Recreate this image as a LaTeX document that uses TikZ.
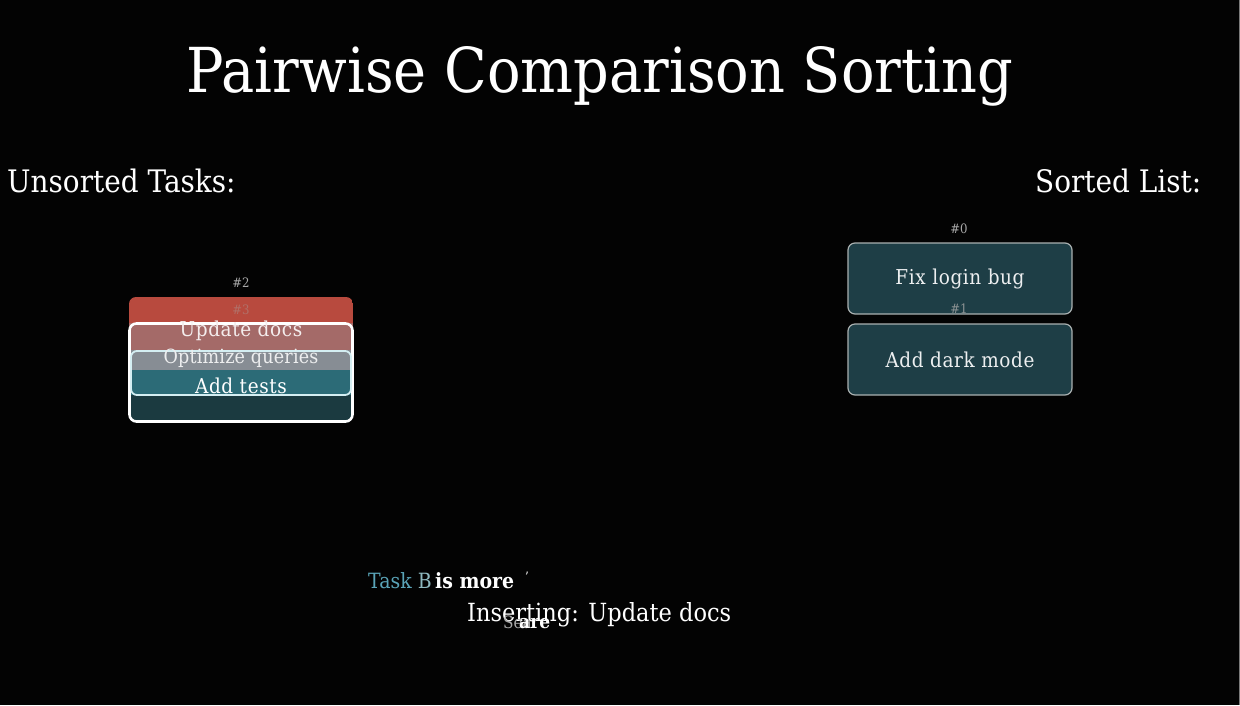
\documentclass[tikz,border=0pt]{standalone}
\usepackage{fontspec}
\setmainfont{DejaVu Serif}[FakeStretch=0.9]
\definecolor{bg}{HTML}{030303}
\definecolor{redbox}{HTML}{B84A3E}
\definecolor{pinkbox}{HTML}{A46A68}
\definecolor{graybox}{HTML}{878D94}
\definecolor{tealbox}{HTML}{2C6B77}
\definecolor{darkteal}{HTML}{1B3A40}
\definecolor{sortfill}{HTML}{1E3E46}
\definecolor{sortedge}{HTML}{A9B0B0}
\definecolor{lbl}{HTML}{A8A8A8}
\definecolor{taskc}{HTML}{5AA4B8}
\definecolor{taskb}{HTML}{8FB9C0}
\definecolor{innerline}{HTML}{D4EEF2}
\definecolor{strip}{HTML}{7A7A7A}
\tikzset{
  heading/.style={text=white, font=\fontsize{31}{36}\selectfont, inner sep=0pt, anchor=base west},
  idx/.style={text=lbl, font=\fontsize{13}{15}\selectfont, inner sep=0pt},
  sortbox/.style={draw=sortedge, line width=1.2pt, fill=sortfill, rounded corners=7pt},
  boxtext/.style={font=\fontsize{20.5}{24}\selectfont\addfontfeatures{LetterSpace=3}, inner sep=0pt},
}
\begin{document}
\begin{tikzpicture}[x=1pt,y=-1pt]
\useasboundingbox (0,0) rectangle (1240,705);
\fill[bg] (0,0) rectangle (1240,705);
\draw[strip, line width=1.2pt] (1239.4,0) -- (1239.4,705);

% title and headings
\node[text=white, font=\fontsize{62}{70}\selectfont, inner sep=0pt, anchor=base] (title) at (600,92) {Pairwise Comparison Sorting};
\node[heading] (unsorted) at (7,192) {Unsorted Tasks:};
\node[heading] (sorted) at (1035,192) {Sorted List:};

% unsorted stack
\node[idx] (i2) at (241,283) {\#2};
\begin{scope}
  \clip[rounded corners=7pt] (129,297) rectangle (353,422.5);
  \fill[redbox] (129,297) rectangle (353,323);
  \fill[pinkbox] (129,323) rectangle (353,350);
  \fill[graybox] (129,350) rectangle (353,370);
  \fill[tealbox] (129,370) rectangle (353,395);
  \fill[darkteal] (129,395) rectangle (353,423);
\end{scope}
\draw[white, line width=2.6pt, rounded corners=7pt] (129.5,323.5) rectangle (352.5,421.5);
\draw[innerline, line width=1.8pt, rounded corners=6pt] (131,351) rectangle (351,395);
\node[idx, text=redbox!60!lbl] (i3) at (241,310) {\#3};
\node[boxtext, text=white!88!pinkbox] (t1) at (241,331) {Update docs};
\node[boxtext, text=white!85!graybox, font=\fontsize{19.5}{22}\selectfont\addfontfeatures{LetterSpace=1}] (t2) at (241,358) {Optimize queries};
\node[boxtext, text=white] (t3) at (241,386) {Add tests};

% sorted list
\node[idx] (i0) at (959,229) {\#0};
\node[sortbox, minimum width=224pt, minimum height=71pt, inner sep=0pt] (s0) at (960,278.5) {};
\node[boxtext, text=white!92!sortfill] (s0t) at (s0.center) {Fix login bug};
\node[idx, text=lbl!80!sortfill] (i1) at (959,309) {\#1};
\node[sortbox, minimum width=224pt, minimum height=71pt, inner sep=0pt] (s1) at (960,359.5) {};
\node[boxtext, text=white!92!sortfill] (s1t) at (s1.center) {Add dark mode};

% status texts
\node[inner sep=0pt, anchor=base west, font=\fontsize{21}{25}\selectfont] (cmp) at (368,588)
  {\textcolor{taskc}{Task }\textcolor{taskb}{B}\,\textcolor{white}{\bfseries is more}};
\node[inner sep=0pt, anchor=base west, text=white, font=\fontsize{13}{15}\selectfont] (tick) at (525,581) {'};
\node[inner sep=0pt, anchor=base west, text=white, font=\fontsize{25}{29}\selectfont] (ins) at (467,621) {Inserting: Update docs};
\node[inner sep=0pt, anchor=base west, text=lbl, font=\fontsize{17}{19}\selectfont] (sea) at (503,628) {Sea};
\node[inner sep=0pt, anchor=base west, text=white, font=\bfseries\fontsize{19}{21}\selectfont] (are) at (519,628) {are};
\end{tikzpicture}
\end{document}
